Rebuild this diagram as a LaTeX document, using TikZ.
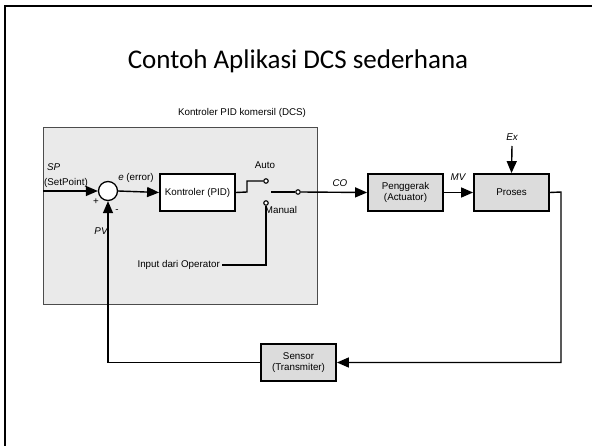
\documentclass[tikz,border=0pt]{standalone}
\usepackage{fontspec}
\setmainfont{Liberation Sans}
\newfontfamily\titlefont{Carlito}
\usetikzlibrary{arrows.meta}
\definecolor{panel}{HTML}{EAEAEA}
\definecolor{blk}{HTML}{DCDCDC}
\begin{document}
\begin{tikzpicture}[x=1pt,y=-1pt,
  lbl/.style={font=\fontsize{9.8}{11}\selectfont, inner sep=0pt},
  blockbox/.style={draw, line width=1.8pt, fill=blk, minimum width=75pt, minimum height=37pt, align=center, inner sep=1pt, font=\fontsize{9.8}{11.5}\selectfont},
  wire/.style={line width=1.4pt},
  arr/.style={wire, -{Triangle[length=12pt,width=10pt]}},
  term/.style={circle, draw, line width=1.1pt, fill=white, inner sep=0pt, minimum size=4.5pt}]
\useasboundingbox (0,0) rectangle (592,446);
% slide frame
\draw[line width=2pt] (5,446) -- (5,6) -- (592,6);
% title
\node (title) at (298,61) {\titlefont\fontsize{27}{32}\selectfont Contoh Aplikasi DCS sederhana};
% DCS panel
\node (dcs) [draw=black!70, line width=0.8pt, fill=panel, minimum width=274pt, minimum height=177pt, anchor=north west, inner sep=0pt] at (43,127) {};
\node (dcslbl) [lbl] at (242,113) {Kontroler PID komersil (DCS)};
% summing junction
\node (sum) [circle, draw, line width=1.3pt, fill=white, minimum size=19pt, inner sep=0pt] at (108,191) {};
\coordinate (spin) at (43,191);
\node (sp) [lbl, anchor=west] at (47,167) {\itshape SP};
\node (spt) [lbl, anchor=west] at (44,183) {(SetPoint)};
\node (plus) [lbl] at (96,202) {+};
\node (minus) [lbl] at (117,211) {-};
\node (pv) [lbl] at (101,231) {\itshape PV};
\node (err) [lbl] at (136,178) {\textit{e} (error)};
% controller
\node (pid) [blockbox, fill=white] at (197.5,192.5) {Kontroler (PID)};
% switch
\node (auto) [term] at (266,181) {};
\node (manual) [term] at (266,203) {};
\node (out) [term] at (298,192) {};
\coordinate (arm) at (271,192);
\coordinate (bend1) at (247,192);
\coordinate (bend2) at (247,181);
\node (autolbl) [lbl] at (265,165) {Auto};
\node (manlbl) [lbl] at (281,210) {Manual};
\node (op) [lbl, anchor=east, inner sep=2pt] at (222,265) {Input dari Operator};
\coordinate (opc) at (266,265);
% blocks
\node (act) [blockbox] at (405.5,192.5) {Penggerak\\(Actuator)};
\node (proc) [blockbox] at (511.5,192.5) {Proses};
\node (sens) [blockbox] at (298.5,362.5) {Sensor\\(Transmiter)};
\node (co) [lbl] at (340,183) {\itshape CO};
\node (mv) [lbl] at (458,177) {\itshape MV};
\coordinate (ex) at (512,146);
\node (exlbl) [lbl] at (512,137) {\itshape Ex};
\coordinate (pc) at (561,192);
% connectors
\draw[arr] (spin) -- (sum.west);
\draw[arr] (sum.east) -- (pid.west);
\draw[wire] (pid.east) -- (bend1) -- (bend2) -- (auto.west);
\draw[wire] (arm) -- (out.west);
\draw[wire] (manual.south) -- (opc) -- (op.east);
\draw[arr] (out.east) -- (act.west);
\draw[arr] (act.east) -- (proc.west);
\draw[arr] (ex) -- (proc.north);
\draw[arr] (proc.east) -- (pc) |- (sens.east);
\draw[arr] (sens.west) -| (sum.south);
\end{tikzpicture}
\end{document}
